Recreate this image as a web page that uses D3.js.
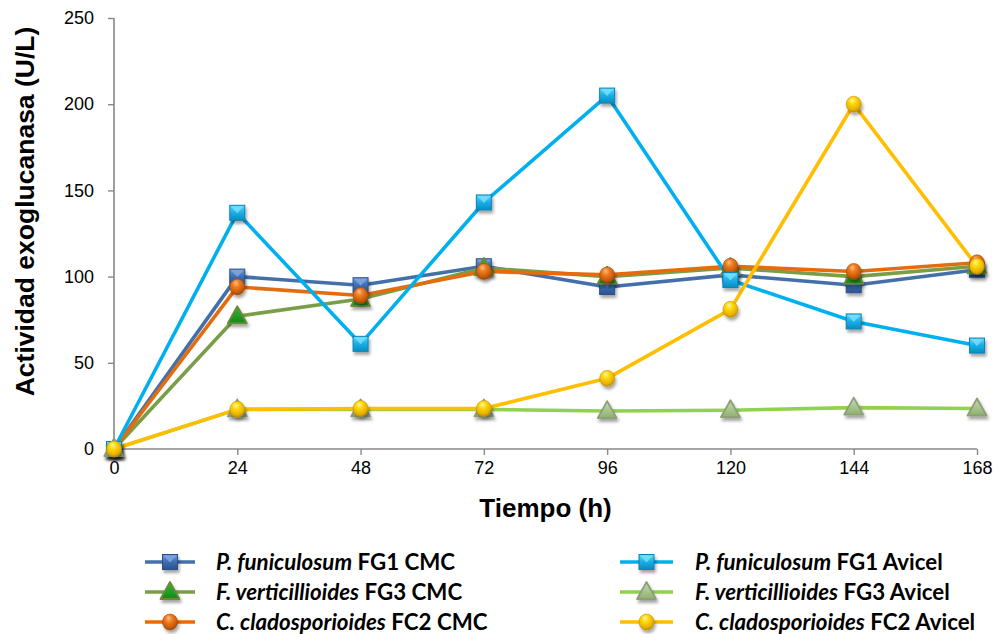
<!DOCTYPE html>
<html>
<head>
<meta charset="utf-8">
<script src="https://cdn.jsdelivr.net/npm/d3@7"></script>
<style>
  html, body { margin: 0; padding: 0; background: #fff; }
  svg { display: block; }
</style>
</head>
<body>
<svg id="chart" width="999" height="634"></svg>
<script>
// Sampling times (h)
const hours = [0, 24, 48, 72, 96, 120, 144, 168];

// Exoglucanase activity (U/L) per strain and substrate
const pfCMC    = [0, 100, 95, 106, 94, 101, 95, 104];
const pfAvicel = [0, 137, 61, 143, 205, 98, 74, 60];
const fvCMC    = [0, 77, 87, 105, 100, 105, 100, 106];
const fvAvicel = [0, 23, 23, 23, 22, 22.5, 24, 23.5];
const ccCMC    = [0, 94, 89, 103, 101, 106, 103, 108];
const ccAvicel = [0, 23, 23.5, 23.5, 41, 81, 200, 106];

// Axis ticks
const xTicks = [0, 24, 48, 72, 96, 120, 144, 168];
const yTicks = [0, 50, 100, 150, 200, 250];

// Series names: italic species + bold strain/substrate
const seriesNames = [
  ["P. funiculosum", " FG1 CMC"],
  ["F. verticillioides", " FG3 CMC"],
  ["C. cladosporioides", " FC2 CMC"],
  ["P. funiculosum", " FG1 Avicel"],
  ["F. verticillioides", " FG3 Avicel"],
  ["C. cladosporioides", " FC2 Avicel"]
];

const series = [
  { name: seriesNames[0], values: pfCMC,    line: "#4470AA", marker: "sqDark" },
  { name: seriesNames[1], values: fvCMC,    line: "#7A9E48", marker: "triDark" },
  { name: seriesNames[2], values: ccCMC,    line: "#E56C0E", marker: "circOrange" },
  { name: seriesNames[3], values: pfAvicel, line: "#00B0EE", marker: "sqLight" },
  { name: seriesNames[4], values: fvAvicel, line: "#92D050", marker: "triLight" },
  { name: seriesNames[5], values: ccAvicel, line: "#FFBE00", marker: "circYellow" }
];

const svg = d3.select("#chart");
const x = d3.scaleLinear().domain([0, 168]).range([114, 977]);
const y = d3.scaleLinear().domain([0, 250]).range([449, 18]);

// ---------- gradients and shadow ----------
const defs = svg.append("defs");
const shadow = defs.append("filter").attr("id", "shadow")
  .attr("x", "-50%").attr("y", "-50%").attr("width", "200%").attr("height", "200%");
shadow.append("feDropShadow").attr("dx", 1.5).attr("dy", 3).attr("stdDeviation", 1.6)
  .attr("flood-color", "#000").attr("flood-opacity", 0.35);

function linGrad(id, stops) {
  const g = defs.append("linearGradient").attr("id", id)
    .attr("x1", 0).attr("y1", 0).attr("x2", 0).attr("y2", 1);
  stops.forEach(s => g.append("stop").attr("offset", s[0]).attr("stop-color", s[1]));
}
function radGrad(id, stops) {
  const g = defs.append("radialGradient").attr("id", id)
    .attr("cx", "45%").attr("cy", "35%").attr("r", "65%").attr("fx", "40%").attr("fy", "25%");
  stops.forEach(s => g.append("stop").attr("offset", s[0]).attr("stop-color", s[1]));
}
linGrad("gSqDark", [[0, "#6E9DDB"], [0.5, "#3F6DB0"], [1, "#2A5390"]]);
linGrad("gSqLight", [[0, "#5FD6FF"], [0.5, "#18AEE6"], [1, "#0A8CC0"]]);
linGrad("gTriDark", [[0, "#3DB33D"], [1, "#128A12"]]);
linGrad("gTriLight", [[0, "#C6DDAE"], [1, "#8FB070"]]);
radGrad("gCircOrange", [[0, "#FBC08A"], [0.35, "#EE7E22"], [0.8, "#C85A08"], [1, "#9C4405"]]);
radGrad("gCircYellow", [[0, "#FFF6A8"], [0.35, "#FFD80A"], [0.8, "#E8B000"], [1, "#B78A00"]]);

// ---------- marker drawing ----------
function drawMarker(g, type, cx, cy) {
  const m = g.append("g").attr("transform", `translate(${cx},${cy})`).attr("filter", "url(#shadow)");
  if (type === "sqDark" || type === "sqLight") {
    const dark = type === "sqDark";
    m.append("rect").attr("x", -7.5).attr("y", -7.5).attr("width", 15).attr("height", 15)
      .attr("fill", dark ? "url(#gSqDark)" : "url(#gSqLight)")
      .attr("stroke", dark ? "#2B4F86" : "#0A82B4").attr("stroke-width", 1);
    m.append("path").attr("d", "M-6.5,-6.5 L6.5,-6.5 L0,0.5 Z")
      .attr("fill", dark ? "#7FA8E2" : "#7BE0FF").attr("opacity", 0.8);
  } else if (type === "triDark" || type === "triLight") {
    const dark = type === "triDark";
    m.append("path").attr("d", "M0,-10 L9.5,7 L-9.5,7 Z")
      .attr("fill", dark ? "url(#gTriDark)" : "url(#gTriLight)")
      .attr("stroke", dark ? "#6A8A3A" : "#8C9E7A").attr("stroke-width", 1.8)
      .attr("stroke-linejoin", "round");
  } else {
    const orange = type === "circOrange";
    m.append("ellipse").attr("rx", 7.5).attr("ry", 8)
      .attr("fill", orange ? "url(#gCircOrange)" : "url(#gCircYellow)")
      .attr("stroke", orange ? "#A84A06" : "#C29200").attr("stroke-width", 0.6);
  }
}

// ---------- axes ----------
const axisColor = "#888888";
const axes = svg.append("g");

const yAxis = axes.append("g").attr("transform", `translate(${x(0)},0)`)
  .call(d3.axisLeft(y).tickValues(yTicks).tickSize(6).tickPadding(14).tickFormat(d3.format("d")));
const xAxis = axes.append("g").attr("transform", `translate(0,${y(0)})`)
  .call(d3.axisBottom(x).tickValues(xTicks).tickSize(6).tickPadding(6).tickFormat(d3.format("d")));

[yAxis, xAxis].forEach(a => {
  a.select(".domain").attr("stroke", axisColor).attr("stroke-width", 1.6);
  a.selectAll(".tick line").attr("stroke", axisColor).attr("stroke-width", 1.4);
  a.selectAll(".tick text").attr("fill", "#000")
    .style("font-family", "'Liberation Sans', Arial, sans-serif").style("font-size", "18px");
});
// Remove outer tick stubs of the domain path
yAxis.select(".domain").attr("d", `M0,${y(250)}V${y(0)}`);
xAxis.select(".domain").attr("d", `M${x(0)},0H${x(168)}`);

// Axis titles
svg.append("text")
  .attr("x", (x(0) + x(168)) / 2).attr("y", 517)
  .attr("text-anchor", "middle")
  .style("font-family", "'Liberation Sans', Arial, sans-serif")
  .style("font-size", "26px").style("font-weight", "bold")
  .text("Tiempo (h)");

svg.append("text")
  .attr("transform", `translate(34,${(25 + 398) / 2}) rotate(-90)`)
  .attr("text-anchor", "middle")
  .style("font-family", "'Liberation Sans', Arial, sans-serif")
  .style("font-size", "26.5px").style("font-weight", "bold")
  .text("Actividad exoglucanasa (U/L)");

// ---------- lines ----------
const lineGen = d3.line().x((d, i) => x(hours[i])).y(d => y(d));
const plot = svg.append("g");
series.forEach(s => {
  plot.append("path").datum(s.values)
    .attr("d", lineGen)
    .attr("fill", "none")
    .attr("stroke", s.line)
    .attr("stroke-width", 3.6)
    .attr("stroke-linejoin", "round");
});

// ---------- markers ----------
const markers = svg.append("g");
series.forEach(s => {
  s.values.forEach((v, i) => drawMarker(markers, s.marker, x(hours[i]), y(v)));
});

// ---------- legend ----------
const legendRows = [562, 592, 622];
const legendCols = [
  { lineX0: 145, lineX1: 195, textX: 216 },
  { lineX0: 620, lineX1: 673, textX: 695 }
];
// Legend order: column 0 holds CMC series, column 1 holds Avicel series
const legend = svg.append("g");
series.forEach((s, i) => {
  const col = legendCols[i < 3 ? 0 : 1];
  const ry = legendRows[i % 3];
  legend.append("line")
    .attr("x1", col.lineX0).attr("x2", col.lineX1)
    .attr("y1", ry).attr("y2", ry)
    .attr("stroke", s.line).attr("stroke-width", 3.6);
  drawMarker(legend, s.marker, (col.lineX0 + col.lineX1) / 2, ry);
  const t = legend.append("text")
    .attr("x", col.textX).attr("y", ry + 8)
    .style("font-family", "Lato, 'Open Sans', sans-serif")
    .style("font-size", "22.3px").style("font-weight", "bold");
  t.append("tspan").style("font-style", "italic").text(s.name[0]);
  t.append("tspan").text(s.name[1]);
});
</script>
</body>
</html>
